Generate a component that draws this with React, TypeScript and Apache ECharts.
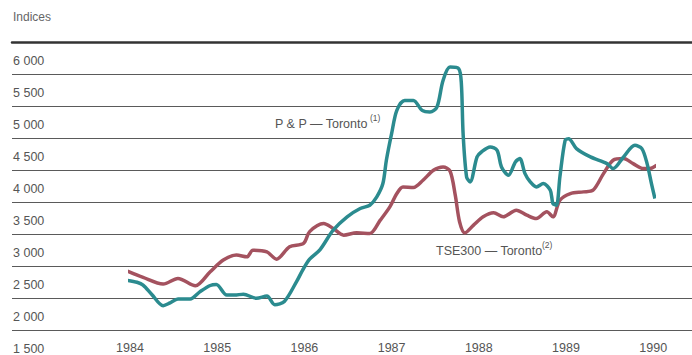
import React, { useEffect, useRef } from "react";
import * as echarts from "echarts";

// Years marked on the horizontal axis
const yearTicks = [1984, 1985, 1986, 1987, 1988, 1989, 1990];
// Index values marked on the vertical axis
const indexTicks = [1500, 2000, 2500, 3000, 3500, 4000, 4500, 5000, 5500, 6000];

// P & P — Toronto (decimal year, index)
const ppSeries: [number, number][] = [
  [1983.97, 2290], [1984.08, 2260], [1984.15, 2216], [1984.25, 2070], [1984.38, 1895],
  [1984.46, 1940], [1984.55, 2000], [1984.69, 2000], [1984.8, 2110], [1984.92, 2210],
  [1984.99, 2225], [1985.11, 2060], [1985.2, 2060], [1985.3, 2075], [1985.45, 2010],
  [1985.57, 2045], [1985.66, 1910], [1985.77, 1960], [1985.91, 2270], [1985.98, 2450],
  [1986.06, 2620], [1986.18, 2770], [1986.33, 3073], [1986.49, 3281], [1986.64, 3410],
  [1986.75, 3462], [1986.83, 3592], [1986.9, 3800], [1986.94, 4163], [1987.0, 4578],
  [1987.06, 4941], [1987.15, 5097], [1987.25, 5097], [1987.35, 4941], [1987.44, 4915],
  [1987.52, 4993], [1987.59, 5408], [1987.67, 5616], [1987.77, 5590], [1987.8, 5357],
  [1987.82, 4578], [1987.86, 3904], [1987.9, 3825], [1987.98, 4215], [1988.03, 4292],
  [1988.13, 4370], [1988.21, 4318], [1988.26, 4059], [1988.34, 3929], [1988.42, 4137],
  [1988.47, 4189], [1988.53, 3955], [1988.59, 3825], [1988.66, 3747], [1988.74, 3800],
  [1988.82, 3696], [1988.85, 3489], [1988.89, 3462], [1988.93, 3904], [1988.99, 4474],
  [1989.03, 4500], [1989.12, 4345], [1989.28, 4215], [1989.47, 4111], [1989.54, 4033],
  [1989.66, 4215], [1989.79, 4396], [1989.87, 4345], [1989.93, 4111], [1989.98, 3800],
  [1990.02, 3566],
];

// TSE300 — Toronto (decimal year, index)
const tseSeries: [number, number][] = [
  [1983.97, 2434], [1984.15, 2336], [1984.38, 2232], [1984.55, 2320], [1984.75, 2206],
  [1984.92, 2424], [1985.07, 2606], [1985.22, 2684], [1985.34, 2657], [1985.41, 2761],
  [1985.57, 2735], [1985.68, 2620], [1985.83, 2813], [1985.99, 2866], [1986.06, 3050],
  [1986.22, 3177], [1986.33, 3100], [1986.45, 2995], [1986.6, 3031], [1986.75, 3021],
  [1986.87, 3229], [1986.98, 3436], [1987.06, 3644], [1987.13, 3747], [1987.25, 3738],
  [1987.36, 3851], [1987.48, 4007], [1987.59, 4059], [1987.67, 3995], [1987.73, 3620],
  [1987.78, 3200], [1987.84, 3030], [1987.94, 3151], [1988.05, 3281], [1988.17, 3344],
  [1988.28, 3281], [1988.43, 3384], [1988.55, 3307], [1988.66, 3255], [1988.78, 3359],
  [1988.85, 3281], [1988.93, 3540], [1989.05, 3644], [1989.2, 3670], [1989.31, 3696],
  [1989.43, 3955], [1989.54, 4163], [1989.66, 4189], [1989.77, 4111], [1989.89, 4033],
  [1989.96, 4033], [1990.04, 4085],
];

const FONT = "'Liberation Sans', Arial, sans-serif";
const TEXT = "#555";

function fmtIndex(v: number): string {
  const th = Math.floor(v / 1000);
  const rest = String(v % 1000).padStart(3, "0");
  return `${th} ${rest}`;
}

export default function App() {
  const ref = useRef<HTMLDivElement>(null);
  useEffect(() => {
    if (!ref.current) return;
    const chart = echarts.init(ref.current, null, { renderer: "svg" });
    const yMin = indexTicks[0];
    const yMax = indexTicks[indexTicks.length - 1];
    chart.setOption({
      animation: false,
      backgroundColor: "#fff",
      grid: [
        { left: 12, right: 0, top: 42.5, bottom: 24 },
        { left: 130, right: 38.8, top: 42.5, bottom: 24 },
      ],
      xAxis: [
        {
          gridIndex: 0,
          type: "value",
          min: 0,
          max: 1,
          position: "top",
          axisLine: { show: true, lineStyle: { color: "#333", width: 2.5 } },
          axisTick: { show: false },
          axisLabel: { show: false },
          splitLine: { show: false },
        },
        {
          gridIndex: 1,
          type: "value",
          min: yearTicks[0],
          max: yearTicks[yearTicks.length - 1],
          interval: 1,
          axisLine: { show: false },
          axisTick: { show: false },
          splitLine: { show: false },
          axisLabel: {
            color: TEXT,
            fontFamily: FONT,
            fontSize: 12.5,
            margin: 10,
            formatter: (v: number) => String(v),
          },
        },
      ],
      yAxis: [
        {
          gridIndex: 0,
          type: "value",
          min: yMin,
          max: yMax,
          interval: 500,
          axisLine: { show: false },
          axisTick: { show: false },
          splitLine: { show: true, lineStyle: { color: "#5a5a5a", width: 1 } },
          axisLabel: {
            inside: true,
            margin: 1,
            align: "left",
            verticalAlign: "top",
            padding: [12, 0, 0, 0],
            color: TEXT,
            fontFamily: FONT,
            fontSize: 12.5,
            formatter: (v: number) => fmtIndex(v),
          },
        },
        {
          gridIndex: 1,
          type: "value",
          min: yMin,
          max: yMax,
          show: false,
          splitLine: { show: false },
        },
      ],
      series: [
        {
          name: "TSE300 — Toronto",
          type: "line",
          xAxisIndex: 1,
          yAxisIndex: 1,
          data: tseSeries,
          showSymbol: false,
          smooth: 0.3,
          clip: false,
          lineStyle: { color: "#a4525f", width: 3.5 },
          itemStyle: { color: "#a4525f" },
        },
        {
          name: "P & P — Toronto",
          type: "line",
          xAxisIndex: 1,
          yAxisIndex: 1,
          data: ppSeries,
          showSymbol: false,
          smooth: 0.3,
          clip: false,
          lineStyle: { color: "#2b8b8f", width: 3.5 },
          itemStyle: { color: "#2b8b8f" },
        },
      ],
      graphic: [
        {
          type: "text",
          left: 13,
          top: 11,
          style: { text: "Indices", fill: "#666", font: `12px ${FONT}` },
        },
        {
          type: "text",
          left: 275,
          top: 117,
          style: { text: "P & P — Toronto", fill: TEXT, font: `12.5px ${FONT}` },
        },
        {
          type: "text",
          left: 370,
          top: 113,
          style: { text: "(1)", fill: TEXT, font: `8.5px ${FONT}` },
        },
        {
          type: "text",
          left: 436,
          top: 244,
          style: { text: "TSE300 — Toronto", fill: TEXT, font: `12.5px ${FONT}` },
        },
        {
          type: "text",
          left: 542,
          top: 240,
          style: { text: "(2)", fill: TEXT, font: `8.5px ${FONT}` },
        },
      ],
    });
    return () => chart.dispose();
  }, []);
  return (
    <div
      ref={ref}
      style={{ position: "fixed", left: 0, top: 0, width: 692, height: 355 }}
    />
  );
}
